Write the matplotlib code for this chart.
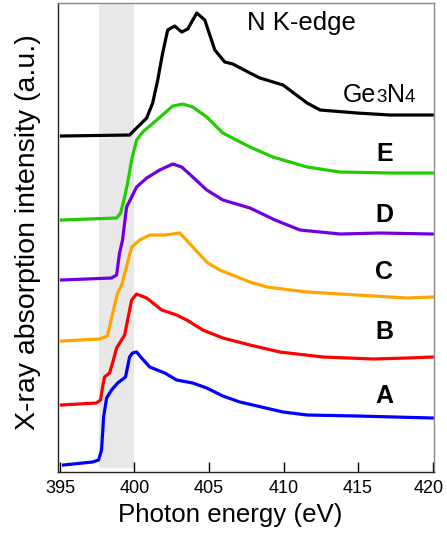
import matplotlib
matplotlib.use("Agg")
import matplotlib.pyplot as plt
from matplotlib.transforms import ScaledTranslation

plt.rcParams['font.family'] = ['Liberation Sans', 'DejaVu Sans']

# Sample A (blue)
a_x = [395.24, 397.19, 397.59, 397.79, 397.93, 398.13, 398.46, 398.87, 399.40, 399.67, 399.87,
       400.14, 400.48, 401.02, 402.03, 402.83, 403.91, 404.85, 405.93, 407.07, 409.97, 411.58,
       414.94, 419.98]
a_y = [0.7, 1.0, 1.2, 2.2, 5.5, 7.4, 8.2, 8.9, 9.5, 11.5, 11.9, 12.0, 11.4, 10.5, 9.9, 9.2, 8.9,
       8.4, 7.6, 7.0, 6.0, 5.7, 5.6, 5.4]

# Sample B (red)
b_x = [395.1, 397.45, 397.72, 397.86, 397.99, 398.33, 398.53, 398.80, 399.34, 399.54, 399.81,
       400.14, 400.82, 401.83, 402.83, 403.51, 404.58, 405.93, 407.75, 409.76, 412.65, 416.02,
       418.3, 419.98]
b_y = [6.7, 6.9, 7.2, 8.5, 9.5, 9.9, 10.9, 12.4, 13.7, 15.2, 17.2, 17.8, 17.4, 16.2, 15.7, 15.2,
       14.2, 13.4, 12.7, 12.0, 11.5, 11.3, 11.4, 11.5]

# Sample C (orange)
c_x = [395.1, 397.66, 398.19, 398.46, 398.67, 398.87, 399.14, 399.41, 399.81, 400.35, 401.02,
       402.03, 403.04, 403.91, 404.92, 405.73, 407.75, 408.89, 411.58, 414.94, 418.3, 419.98]
c_y = [13.1, 13.3, 13.6, 15.4, 16.7, 17.9, 18.7, 20.2, 22.5, 23.2, 23.7, 23.7, 23.9, 22.5, 20.9,
       20.2, 19.0, 18.5, 18.0, 17.7, 17.4, 17.5]

# Sample D (purple)
d_x = [395.1, 398.46, 398.80, 399.0, 399.2, 399.47, 399.81, 400.14, 400.82, 401.69, 402.57,
       403.17, 403.91, 404.85, 405.93, 407.75, 409.43, 411.11, 413.8, 416.49, 419.98]
d_y = [19.2, 19.4, 19.7, 21.9, 23.2, 26.5, 27.5, 28.5, 29.4, 30.2, 30.8, 30.5, 29.5, 28.2, 27.2,
       26.4, 25.2, 24.2, 23.8, 23.9, 23.8]

# Sample E (green)
e_x = [395.1, 398.8, 399.07, 399.34, 399.54, 399.81, 400.14, 400.55, 401.49, 402.57, 403.24,
       403.91, 404.85, 405.93, 407.75, 409.29, 411.58, 413.8, 417.16, 419.98]
e_y = [25.2, 25.4, 25.9, 27.5, 28.9, 31.2, 33.2, 34.0, 35.2, 36.6, 36.8, 36.5, 35.5, 33.9, 32.5,
       31.5, 30.5, 30.0, 29.9, 29.9]

# Ge3N4 reference (black)
g_x = [395.1, 399.67, 400.14, 400.82, 401.22, 401.56, 401.89, 402.23, 402.7, 403.17, 403.57,
       404.18, 404.72, 405.39, 406.06, 406.6, 407.75, 408.42, 409.97, 411.58, 412.46, 414.94,
       417.16, 419.98]
g_y = [33.6, 33.7, 34.4, 35.4, 36.9, 39.2, 41.9, 44.2, 44.6, 44.0, 44.3, 45.9, 45.2, 42.2, 41.0,
       40.8, 39.9, 39.4, 38.7, 36.9, 36.2, 35.9, 35.7, 35.7]

x_ticks = [395, 400, 405, 410, 415, 420]
shade_range = (397.6, 400.0)

fig = plt.figure(figsize=(4.47, 5.39), dpi=100)
ax = fig.add_axes([0.1298, 0.1243, 0.8412, 0.8701])

ax.axvspan(shade_range[0], shade_range[1], ymin=0.009, ymax=1.0, color='#e8e8e8', lw=0, zorder=0)

lw = 2.3
ax.plot(a_x, a_y, color='#0000ff', lw=lw, solid_joinstyle='round')
ax.plot(b_x, b_y, color='#ff0000', lw=lw, solid_joinstyle='round')
ax.plot(c_x, c_y, color='#ffa500', lw=lw, solid_joinstyle='round')
ax.plot(d_x, d_y, color='#7000e0', lw=lw, solid_joinstyle='round')
ax.plot(e_x, e_y, color='#22cc00', lw=lw, solid_joinstyle='round')
ax.plot(g_x, g_y, color='#000000', lw=lw, solid_joinstyle='round')

ax.set_xlim(394.87, 420.1)
ax.set_ylim(0, 46.9)
ax.set_xticks(x_ticks)
ax.set_yticks([])
ax.tick_params(axis='x', direction='in', length=7, width=1, labelsize=13, pad=6)
# nudge the last tick label slightly left so it stays inside the canvas
last = ax.get_xticklabels()[-1]
last.set_transform(last.get_transform() + ScaledTranslation(-3 / 72, 0, fig.dpi_scale_trans))

for s in ['left', 'bottom']:
    ax.spines[s].set_color('#222222')
    ax.spines[s].set_linewidth(1.0)
for s in ['top', 'right']:
    ax.spines[s].set_color('#888888')
    ax.spines[s].set_linewidth(1.0)

ax.set_xlabel('Photon energy (eV)', fontsize=18.6)
ax.xaxis.set_label_coords(0.457, -0.067, transform=ax.transAxes)
ax.set_ylabel('X-ray absorption intensity (a.u.)', fontsize=20.5)
ax.yaxis.set_label_coords(-0.045, 0.511, transform=ax.transAxes)

ax.text(411.17, 44.9, 'N K-edge', fontsize=18.5, ha='center', va='center')

# Ge3N4 label with small digits on baseline
t_ge = ax.text(414.0, 37.0, 'Ge', fontsize=18, ha='left', va='baseline')
t_3 = ax.annotate('3', xy=(1, 0), xycoords=t_ge, xytext=(0, 1.0), textcoords='offset points',
                  fontsize=13.5, ha='left', va='bottom')
t_n = ax.annotate('N', xy=(1, 0), xycoords=t_3, xytext=(0, -1.0), textcoords='offset points',
                  fontsize=18, ha='left', va='bottom')
ax.annotate('4', xy=(1, 0), xycoords=t_n, xytext=(0, 1.0), textcoords='offset points',
            fontsize=13.5, ha='left', va='bottom')

for lbl, yy in [('E', 31.8), ('D', 25.7), ('C', 20.0), ('B', 14.0), ('A', 7.6)]:
    ax.text(416.76, yy, lbl, fontsize=18, fontweight='bold', ha='center', va='center')

fig.savefig('out.png', dpi=100)
